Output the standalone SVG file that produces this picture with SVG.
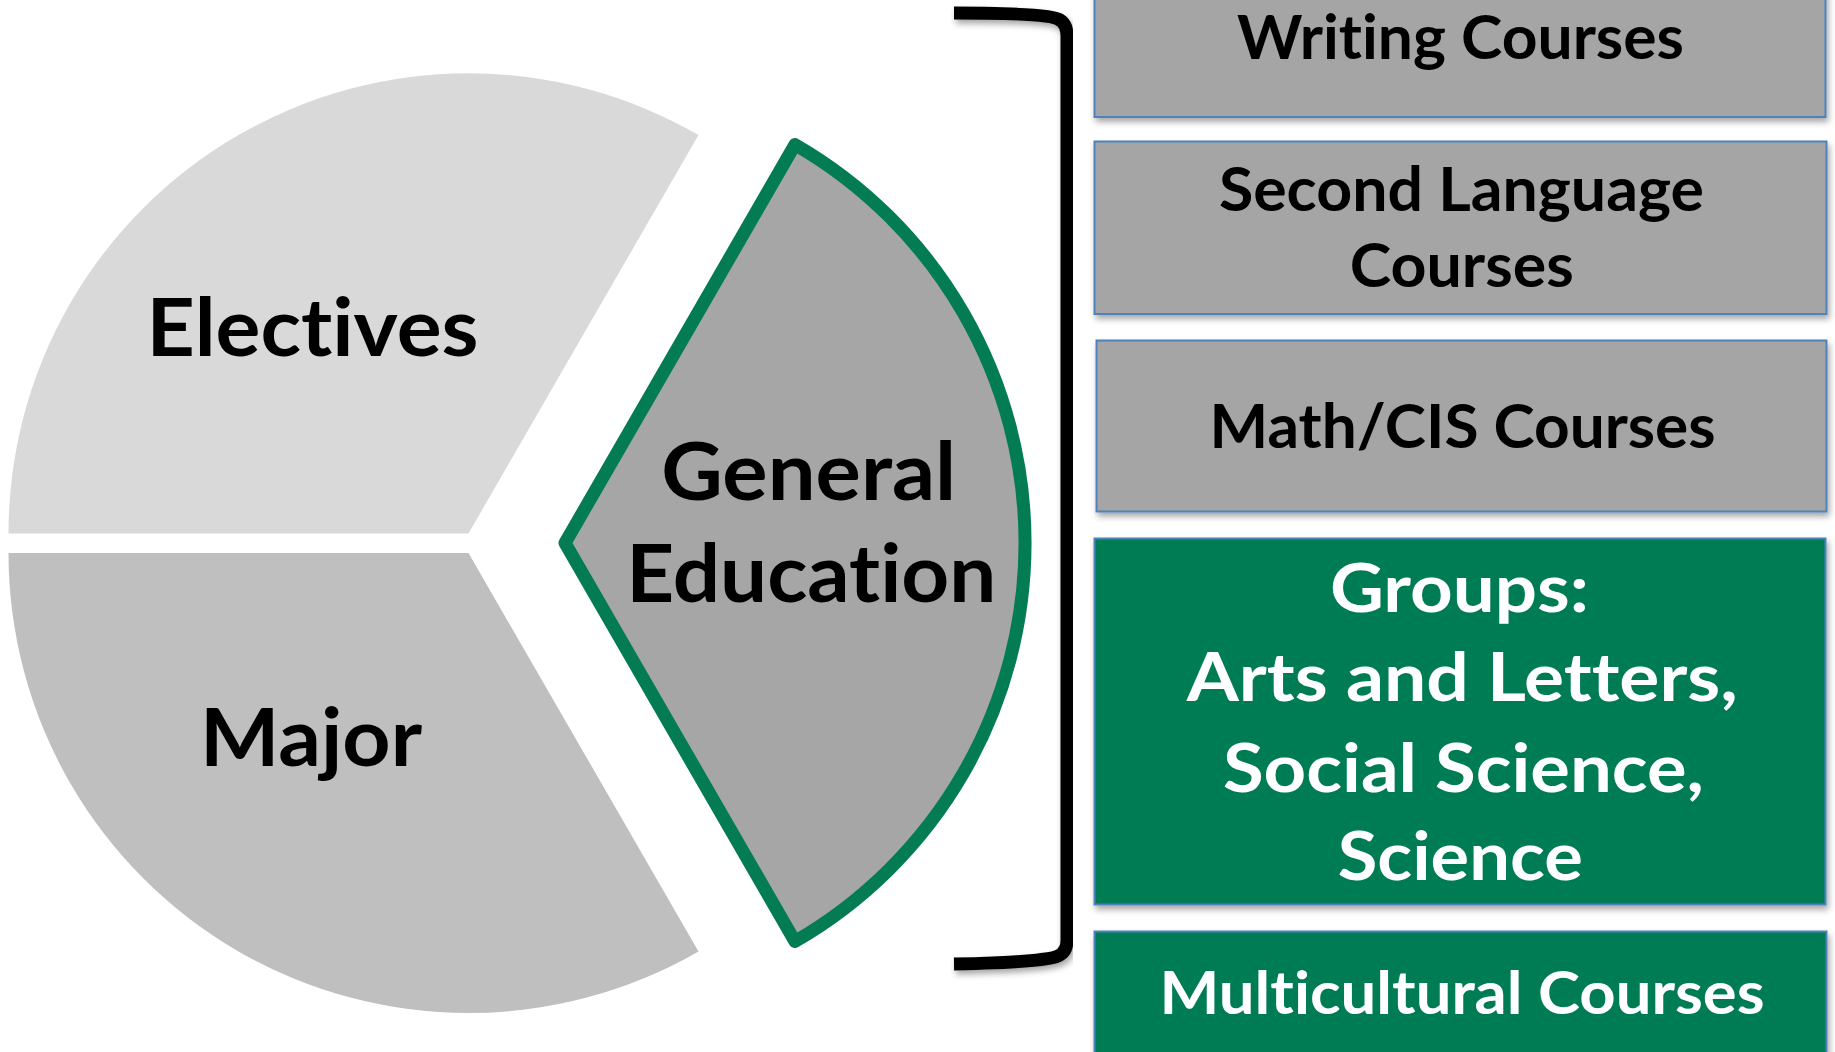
<svg xmlns="http://www.w3.org/2000/svg" width="1835" height="1052" viewBox="0 0 1835 1052">
<defs>
<filter id="sh" x="-5%" y="-10%" width="110%" height="130%">
<feDropShadow dx="2" dy="4" stdDeviation="3" flood-color="#000" flood-opacity="0.35"/>
</filter>
<style>
text{font-family:Lato,"Open Sans","Liberation Sans",sans-serif;font-weight:bold;text-anchor:middle;font-variant-ligatures:none;font-feature-settings:"liga" 0,"clig" 0}
.pie{font-size:81px;fill:#000}
.gb{fill:#a5a5a5;stroke:#4f81bd;stroke-width:2}
.grn{fill:#037c54;stroke:#4f81bd;stroke-width:2}
.bt{font-size:61px;fill:#000}
.wt{font-size:66px;fill:#fff}
.wt2{font-size:60px;fill:#fff}
</style>
</defs>
<rect width="1835" height="1052" fill="#fff"/>

<g id="electives">
<path d="M468.5,533.5 L8.5,533.5 A460,460 0 0 1 698.5,135 Z" fill="#d9d9d9"/>
<text class="pie" x="312.5" y="356" textLength="332" lengthAdjust="spacingAndGlyphs">Electives</text>
</g>
<g id="major">
<path d="M468.5,553 L698.5,951.4 A460,460 0 0 1 8.5,553 Z" fill="#bfbfbf"/>
<text class="pie" x="311" y="766" textLength="222" lengthAdjust="spacingAndGlyphs">Major</text>
</g>
<g id="general-education">
<path d="M565,543 L795,144.6 A460,460 0 0 1 795,941.4 Z" fill="#a6a6a6" stroke="#037c54" stroke-width="13" stroke-linejoin="round"/>
<text class="pie" x="808.7" y="500" textLength="295" lengthAdjust="spacingAndGlyphs">General</text>
<text class="pie" x="811.3" y="602" textLength="370" lengthAdjust="spacingAndGlyphs">Education</text>
</g>

<g id="connectors">
<path d="M954,13 C1010,13 1050,15 1058,19 Q1067,23 1067,36 L1067,940 Q1067,952 1058,956 C1050,960 1010,963 954,964" fill="none" stroke="#000" stroke-width="13" filter="url(#sh)"/>
</g>

<g id="writing">
<rect class="gb" x="1094.5" y="-50" width="731" height="167" filter="url(#sh)"/>
<text class="bt" x="1460.5" y="58.5" textLength="447" lengthAdjust="spacingAndGlyphs">Writing Courses</text>
</g>
<g id="second-language">
<rect class="gb" x="1094.5" y="141.5" width="732" height="172.5" filter="url(#sh)"/>
<text class="bt" x="1461.4" y="210.7" textLength="485" lengthAdjust="spacingAndGlyphs">Second Language</text>
<text class="bt" x="1461.7" y="286.8" textLength="224" lengthAdjust="spacingAndGlyphs">Courses</text>
</g>
<g id="math-cis">
<rect class="gb" x="1096.5" y="340.5" width="730" height="171" filter="url(#sh)"/>
<text class="bt" x="1462.6" y="447.7" textLength="506" lengthAdjust="spacingAndGlyphs">Math/CIS Courses</text>
</g>
<g id="groups">
<rect class="grn" x="1094.5" y="538.5" width="731" height="366" filter="url(#sh)"/>
<text class="wt" x="1459.4" y="611.6" textLength="259" lengthAdjust="spacingAndGlyphs">Groups:</text>
<text class="wt" x="1462.3" y="701" textLength="551" lengthAdjust="spacingAndGlyphs">Arts and Letters,</text>
<text class="wt" x="1463.5" y="791.5" textLength="481" lengthAdjust="spacingAndGlyphs">Social Science,</text>
<text class="wt" x="1460.3" y="879.7" textLength="245" lengthAdjust="spacingAndGlyphs">Science</text>
</g>
<g id="multicultural">
<rect class="grn" x="1094.5" y="931.5" width="732" height="140" filter="url(#sh)"/>
<text class="wt2" x="1462" y="1013.7" textLength="605" lengthAdjust="spacingAndGlyphs">Multicultural Courses</text>
</g>
</svg>
